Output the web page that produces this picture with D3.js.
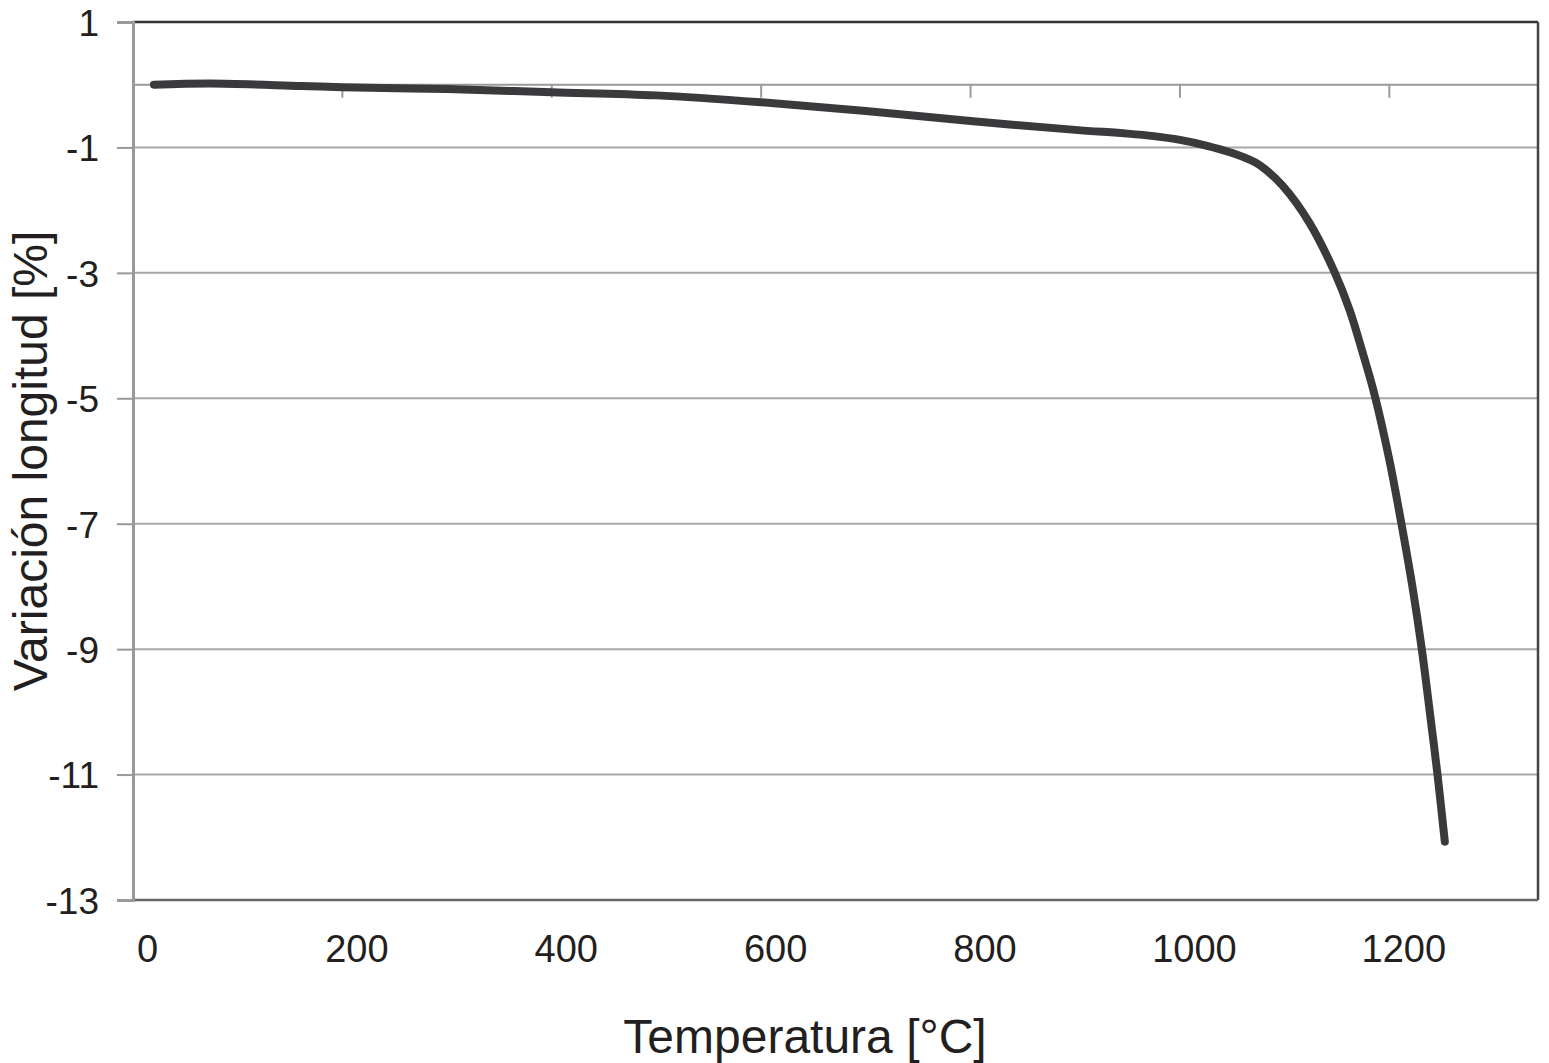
<!DOCTYPE html>
<html><head><meta charset="utf-8">
<script src="https://cdn.jsdelivr.net/npm/d3@7"></script>
<style>body{margin:0;background:#fff}svg{display:block}text{font-family:"Liberation Sans",Arial,sans-serif;fill:#231f20}</style>
</head><body>
<script>
const temperature = [20, 75, 160, 200, 300, 400, 500, 600, 700, 800, 900, 950, 975, 1000, 1025, 1050, 1067, 1076, 1098, 1124, 1148, 1162, 1175, 1186, 1200, 1211, 1222, 1231, 1239, 1246, 1253];
const variation   = [0.0, 0.02, -0.02, -0.04, -0.07, -0.12, -0.17, -0.28, -0.42, -0.58, -0.72, -0.78, -0.82, -0.88, -0.97, -1.09, -1.20, -1.28, -1.61, -2.21, -3.0, -3.59, -4.30, -4.95, -5.98, -6.95, -8.0, -9.0, -10.05, -11.0, -12.07];
const xTickValues = [0, 200, 400, 600, 800, 1000, 1200];
const yTickValues = [1, -1, -3, -5, -7, -9, -11, -13];
const yGridValues = [-1, -3, -5, -7, -9, -11];

const W = 1549, H = 1063;
const L = 133, R = 1538, T = 22, B = 900;
const svg = d3.select("body").append("svg").attr("width", W).attr("height", H);
const x = d3.scaleLinear().domain([0, 1342]).range([L, R]);
const y = d3.scaleLinear().domain([-13, 1]).range([B, T]);

svg.append("g").selectAll("line").data(yGridValues).join("line")
  .attr("x1", L).attr("x2", R).attr("y1", d => y(d)).attr("y2", d => y(d))
  .attr("stroke", "#a7a7a7").attr("stroke-width", 2);

svg.append("line").attr("x1", L).attr("x2", R).attr("y1", y(0)).attr("y2", y(0))
  .attr("stroke", "#9a9a9a").attr("stroke-width", 2);
svg.append("g").selectAll("line").data(xTickValues.filter(d => d > 0)).join("line")
  .attr("x1", d => x(d)).attr("x2", d => x(d)).attr("y1", y(0)).attr("y2", y(0) + 13)
  .attr("stroke", "#9a9a9a").attr("stroke-width", 2);

svg.append("line").attr("x1", L).attr("x2", R).attr("y1", T).attr("y2", T).attr("stroke", "#333").attr("stroke-width", 2.5);
svg.append("line").attr("x1", R).attr("x2", R).attr("y1", T).attr("y2", B).attr("stroke", "#444").attr("stroke-width", 2.5);
svg.append("line").attr("x1", L).attr("x2", R).attr("y1", B).attr("y2", B).attr("stroke", "#666").attr("stroke-width", 2.5);

const yAxis = d3.axisLeft(y).tickValues(yTickValues).tickSize(16).tickPadding(18).tickFormat(d3.format("d"));
const ya = svg.append("g").attr("transform", `translate(${L},0)`).call(yAxis);
ya.select(".domain").attr("stroke", "#999").attr("stroke-width", 3);
ya.selectAll(".tick line").attr("stroke", "#999").attr("stroke-width", 2);
ya.selectAll(".tick text").attr("font-size", 37).attr("fill", "#231f20").attr("dy", "0.36em")
  .text(d => d < 0 ? "-" + Math.abs(d) : d);

const xAxis = d3.axisBottom(x).tickValues(xTickValues).tickSize(0).tickPadding(22).tickFormat(d3.format("d"));
const xa = svg.append("g").attr("transform", `translate(0,${B})`).call(xAxis);
xa.select(".domain").remove();
xa.selectAll(".tick text").attr("font-size", 38).attr("fill", "#231f20").attr("dx", 14).attr("dy", "1.05em");

const line = d3.line().x((d, i) => x(temperature[i])).y(d => y(d)).curve(d3.curveCatmullRom.alpha(0.5));
svg.append("path").datum(variation).attr("d", line)
  .attr("fill", "none").attr("stroke", "#3a3a3c").attr("stroke-width", 8)
  .attr("stroke-linecap", "round").attr("stroke-linejoin", "round");

svg.append("text").attr("x", 805).attr("y", 1053).attr("text-anchor", "middle")
  .attr("font-size", 48).text("Temperatura [°C]");
svg.append("text").attr("transform", "translate(47,461) rotate(-90)").attr("text-anchor", "middle")
  .attr("font-size", 48).text("Variación longitud [%]");
</script>
</body></html>
